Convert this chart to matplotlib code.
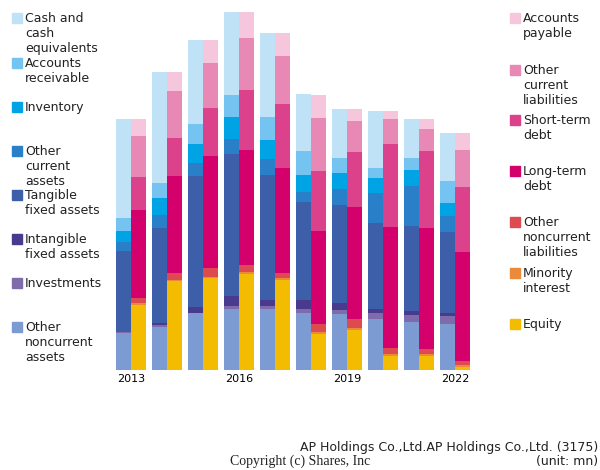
import matplotlib
matplotlib.use("Agg")
import matplotlib.pyplot as plt
from matplotlib.patches import Rectangle
import numpy as np

years = [2013, 2014, 2015, 2016, 2017, 2018, 2019, 2020, 2021, 2022]
tick_years = ["2013", "", "", "2016", "", "", "2019", "", "", "2022"]

# assets side (bottom to top)
other_noncurrent_assets = [37, 43.3, 56.7, 60.7, 61, 57.3, 56, 51, 48, 46]
investments = [0.7, 1.7, 0.7, 3.3, 3, 4, 4, 5.7, 7, 8]
intangible = [0.6, 1.7, 5.3, 9.7, 6, 8.7, 6.7, 4, 3.7, 2.7]
tangible = [80.7, 95.7, 131.7, 142.7, 124.7, 97.7, 98, 86, 85, 81]
other_current_assets = [8.7, 12.3, 13, 15, 16, 10.7, 16.7, 30, 40.3, 16.7]
inventory = [11.3, 17.3, 18.7, 22, 19.7, 16.7, 16, 15.7, 16, 12.7]
receivables = [12.7, 15, 20.3, 21.3, 23, 24.3, 14.7, 9.3, 12, 22]
cash = [99.3, 111, 83.7, 83.3, 84, 56.7, 48.7, 57.3, 38.7, 47.7]

# liabilities side (bottom to top)
equity = [65.3, 89, 92, 96, 89.7, 36.3, 40, 13.7, 14, 3.3]
minority = [1.3, 1.3, 1, 2, 2.3, 2, 2.3, 2.3, 2, 2]
other_noncurrent_liab = [5.3, 6.3, 9, 7, 4.7, 8, 8.7, 5.7, 4.7, 3.7]
long_term_debt = [88, 97.7, 112.3, 115.3, 105.7, 92.3, 112.3, 121.7, 121.3, 109]
short_term_debt = [33, 37.7, 48, 60, 63.3, 60.3, 54.3, 82.7, 76.7, 65.3]
other_current_liab = [41, 47, 45, 52, 48.3, 53.3, 31, 25, 22.7, 36.7]
payables = [17, 19, 22.7, 25.7, 23.3, 23, 12, 8, 9.3, 16.7]

asset_series = [
    ("Other\nnoncurrent\nassets", other_noncurrent_assets, "#7b9bd2"),
    ("Investments", investments, "#7f6bab"),
    ("Intangible\nfixed assets", intangible, "#483a8c"),
    ("Tangible\nfixed assets", tangible, "#3d5ea8"),
    ("Other\ncurrent\nassets", other_current_assets, "#2a80c8"),
    ("Inventory", inventory, "#00a4e4"),
    ("Accounts\nreceivable", receivables, "#74c3f0"),
    ("Cash and\ncash\nequivalents", cash, "#c0e2f7"),
]
liab_series = [
    ("Equity", equity, "#f4bc00"),
    ("Minority\ninterest", minority, "#ec8a3c"),
    ("Other\nnoncurrent\nliabilities", other_noncurrent_liab, "#dd4a50"),
    ("Long-term\ndebt", long_term_debt, "#d4006c"),
    ("Short-term\ndebt", short_term_debt, "#dc428c"),
    ("Other\ncurrent\nliabilities", other_current_liab, "#e888b4"),
    ("Accounts\npayable", payables, "#f5c6dc"),
]

fig = plt.figure(figsize=(6, 4.7), dpi=100)
ax = fig.add_axes([116 / 600, 100 / 470, 354 / 600, 358 / 470])

x = np.arange(len(years))
w = 15 / 36

bottom = np.zeros(len(years))
for name, vals, col in asset_series:
    ax.bar(x - w, vals, width=w, bottom=bottom, color=col, align="edge", linewidth=0)
    bottom += np.array(vals)

bottom = np.zeros(len(years))
for name, vals, col in liab_series:
    ax.bar(x, vals, width=w, bottom=bottom, color=col, align="edge", linewidth=0)
    bottom += np.array(vals)

ax.set_xlim(-w, len(years) - 1 + w)
ax.set_ylim(0, 358)
ax.set_xticks(x)
ax.set_xticklabels(tick_years, fontsize=8)
ax.tick_params(axis="x", length=0, pad=3)
ax.set_yticks([])
for s in ax.spines.values():
    s.set_visible(False)

# left legend (top to bottom)
left_y = [13, 58, 102, 146, 190, 234, 278, 322]
for (name, vals, col), yy in zip(asset_series[::-1], left_y):
    fig.patches.append(Rectangle((12 / 600, 1 - (yy + 10) / 470), 10 / 600, 10 / 470,
                                 transform=fig.transFigure, color=col))
    fig.text(25 / 600, 1 - (yy - 1) / 470, name, fontsize=9, va="top", ha="left",
             color="#222222", linespacing=1.22)

right_y = [13, 65, 115, 166, 217, 268, 319]
for (name, vals, col), yy in zip(liab_series[::-1], right_y):
    fig.patches.append(Rectangle((510 / 600, 1 - (yy + 10) / 470), 10 / 600, 10 / 470,
                                 transform=fig.transFigure, color=col))
    fig.text(523 / 600, 1 - (yy - 1) / 470, name, fontsize=9, va="top", ha="left",
             color="#222222", linespacing=1.22)

fig.text(598 / 600, 1 - 447 / 470, "AP Holdings Co.,Ltd.AP Holdings Co.,Ltd. (3175)",
         fontsize=9, ha="right", va="center", color="#222222")
fig.text(598 / 600, 1 - 461 / 470, "(unit: mn)", fontsize=9, ha="right", va="center",
         color="#222222")
fig.text(300 / 600, 1 - 461 / 470, "Copyright (c) Shares, Inc", fontsize=10, ha="center",
         va="center", family="Liberation Serif", color="#222222")

fig.savefig("out.png", dpi=100)
